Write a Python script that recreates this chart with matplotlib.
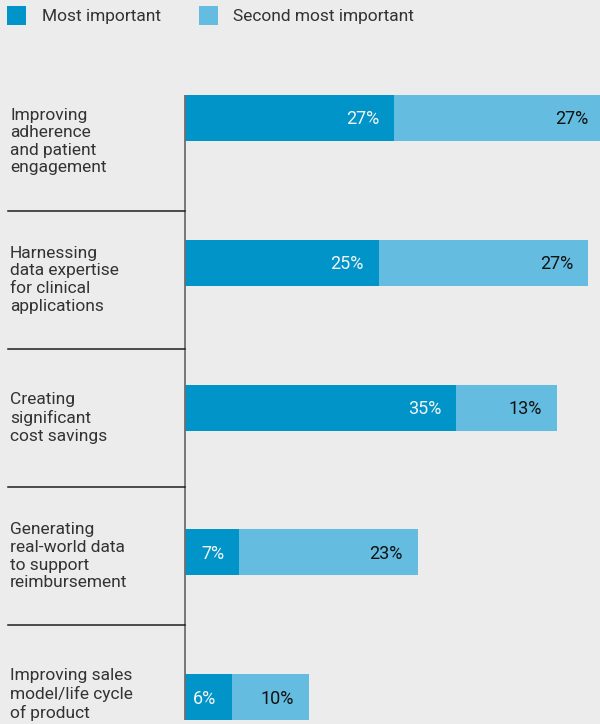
import matplotlib
matplotlib.use("Agg")
import matplotlib.pyplot as plt
from matplotlib.patches import Rectangle
from matplotlib.lines import Line2D

# Survey results: share of respondents ranking each priority
categories = [
    "Improving\nadherence\nand patient\nengagement",
    "Harnessing\ndata expertise\nfor clinical\napplications",
    "Creating\nsignificant\ncost savings",
    "Generating\nreal-world data\nto support\nreimbursement",
    "Improving sales\nmodel/life cycle\nof product",
]
most_important = [27, 25, 35, 7, 6]
second_important = [27, 27, 13, 23, 10]
series_names = ["Most important", "Second most important"]

DARK = "#0094c9"
LIGHT = "#64bde0"
BG = "#ececec"
TEXT = "#333333"

W, H = 600, 724
plt.rcParams["font.family"] = ["Roboto", "DejaVu Sans"]
plt.rcParams["font.weight"] = "normal"

fig = plt.figure(figsize=(W / 100, H / 100), dpi=100, facecolor=BG)


def fx(px):
    return px / W


def fy(px):
    return 1 - px / H


# bar area: x=0 sits at 185px, 7.75px per percentage point
x0_px, px_per_pct = 185, 7.75
first_center, pitch = 118, 144.75
y_top = -0.5
y_bot = (H - first_center) / pitch
top_px = first_center + y_top * pitch
ax = fig.add_axes([fx(x0_px), 0, 1 - fx(x0_px), (H - top_px) / H])
ax.set_facecolor(BG)
ax.set_xlim(0, (W - x0_px) / px_per_pct)
ax.set_ylim(y_bot, y_top)
ax.axis("off")

ypos = list(range(len(categories)))
bar_h = 46 / pitch
ax.barh(ypos, most_important, height=bar_h, color=DARK, linewidth=0)
ax.barh(ypos, second_important, left=most_important, height=bar_h,
        color=LIGHT, linewidth=0)

for y, a, b in zip(ypos, most_important, second_important):
    ax.annotate(f"{a}%", xy=(a, y), xytext=(-15, -6.5), textcoords="offset pixels",
                ha="right", va="baseline", fontsize=13, color="#f4f4f4",
                fontweight="normal", annotation_clip=False)
    ax.annotate(f"{b}%", xy=(a + b, y), xytext=(-15, -6.5), textcoords="offset pixels",
                ha="right", va="baseline", fontsize=13, color="#111111",
                fontweight="normal", annotation_clip=False)

# vertical axis line
ax.plot([0, 0], [-bar_h / 2, len(categories) - 1 + bar_h / 2], color="#6e6e6e",
        lw=1.3, clip_on=False, solid_capstyle="butt")

# category labels centred in their bands, separators between bands
band0, band_pitch = 141.5, 138.25
for i, label in enumerate(categories):
    c = band0 + i * band_pitch
    fig.text(fx(10), fy(c), label, ha="left", va="center", fontsize=12.5,
             color=TEXT, linespacing=1.22, fontweight="normal")
    if i < len(categories) - 1:
        sy = fy(c + band_pitch / 2)
        fig.add_artist(Line2D([fx(8), fx(x0_px)], [sy, sy], color="#1e1e1e",
                              lw=1.1, transform=fig.transFigure))

# legend
for name, color, sx, tx in zip(series_names, [DARK, LIGHT], [7, 199], [42, 233]):
    fig.add_artist(Rectangle((fx(sx), fy(25)), fx(19), 19 / H, color=color,
                             transform=fig.transFigure, lw=0))
    fig.text(fx(tx), fy(16), name, ha="left", va="center", fontsize=12.5,
             color=TEXT, fontweight="normal")

fig.savefig("out.png", dpi=100, facecolor=BG)
